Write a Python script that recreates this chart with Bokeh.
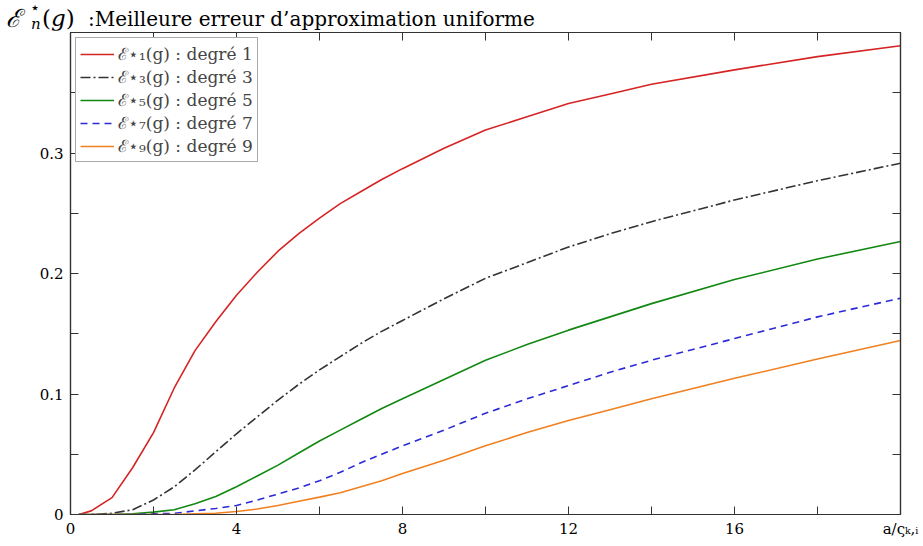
from bokeh.plotting import figure
from bokeh.layouts import column
from bokeh.models import (ColumnDataSource, Range1d, LinearAxis, FixedTicker,
                          NumeralTickFormatter, Legend, LegendItem, Div)
from bokeh.embed import file_html
from bokeh.resources import INLINE

# ---- data ----
x_vals = [0.2, 0.5, 1, 1.5, 2, 2.5, 3, 3.5, 4, 4.5, 5, 5.5, 6, 6.5, 7, 7.5, 8, 9, 10,
          11, 12, 13, 14, 16, 18, 20]
deg1 = [0, 0.003, 0.014, 0.039, 0.068, 0.105, 0.136, 0.160, 0.182, 0.201, 0.2185,
        0.233, 0.246, 0.258, 0.268, 0.278, 0.287, 0.304, 0.319, 0.330, 0.341, 0.349,
        0.357, 0.369, 0.380, 0.389]
deg3 = [0, 0, 0.001, 0.004, 0.012, 0.023, 0.037, 0.052, 0.067, 0.081, 0.095,
        0.108, 0.120, 0.131, 0.142, 0.152, 0.161, 0.179, 0.196, 0.209, 0.222, 0.233,
        0.243, 0.261, 0.277, 0.2915]
deg5 = [0, 0, 0, 0.0005, 0.002, 0.004, 0.009, 0.015, 0.023, 0.032, 0.041,
        0.051, 0.061, 0.070, 0.079, 0.088, 0.096, 0.112, 0.128, 0.141, 0.153, 0.164,
        0.175, 0.195, 0.212, 0.2266]
deg7 = [0, 0, 0, 0, 0.0005, 0.001, 0.003, 0.005, 0.0075, 0.012, 0.017,
        0.022, 0.028, 0.035, 0.043, 0.050, 0.057, 0.070, 0.084, 0.096, 0.107, 0.118,
        0.128, 0.146, 0.164, 0.1795]
deg9 = [0, 0, 0, 0, 0, 0, 0.0005, 0.001, 0.0025, 0.0045, 0.0075,
        0.011, 0.0144, 0.018, 0.023, 0.028, 0.034, 0.045, 0.057, 0.068, 0.078, 0.087,
        0.096, 0.113, 0.129, 0.1444]

series_keys = ["deg1", "deg3", "deg5", "deg7", "deg9"]
series_labels = ["ℰ⋆₁(g) : degré 1", "ℰ⋆₃(g) : degré 3", "ℰ⋆₅(g) : degré 5",
                 "ℰ⋆₇(g) : degré 7", "ℰ⋆₉(g) : degré 9"]
series_colors = ["#d62424", "#333333", "#118811", "#2a2ad8", "#f08020"]
series_dash = ["solid", "10 3 2 3", "solid", "7 5", "solid"]

x_ticks = [0, 4, 8, 12, 16, 20]
x_minor = [2, 6, 10, 14, 18]
x_label_overrides = {20: "a/ςₖ,ᵢ"}
y_ticks = [0, 0.1, 0.2, 0.3]
y_minor = [0.05, 0.15, 0.25, 0.35]

heading_main = ":Meilleure erreur d’approximation uniforme"

source = ColumnDataSource(dict(x=x_vals, deg1=deg1, deg3=deg3, deg5=deg5,
                               deg7=deg7, deg9=deg9))

FONT = "DejaVu Serif"

p = figure(width=923, height=516, output_backend="svg", toolbar_location=None,
           x_range=Range1d(0, 20), y_range=Range1d(0, 0.4),
           min_border_left=70, min_border_right=23, min_border_top=2,
           min_border_bottom=32, x_axis_type=None, y_axis_type=None)
p.xgrid.visible = False
p.ygrid.visible = False
p.outline_line_color = "#222222"
p.outline_line_width = 1.2
p.background_fill_color = "white"
p.border_fill_color = "white"

def style_axis(ax, ticks, minor, labels=True):
    ax.ticker = FixedTicker(ticks=ticks, minor_ticks=minor)
    ax.major_tick_in = 8
    ax.major_tick_out = 0
    ax.minor_tick_in = 8
    ax.minor_tick_out = 0
    ax.major_tick_line_color = "#333333"
    ax.minor_tick_line_color = "#333333"
    ax.axis_line_color = "#333333"
    ax.axis_line_width = 1.2
    if labels:
        ax.major_label_text_font = FONT
        ax.major_label_text_font_size = "15px"
        ax.major_label_text_color = "black"
    else:
        ax.major_label_text_color = None
        ax.major_label_standoff = 0

bx = LinearAxis(major_label_overrides=x_label_overrides)
style_axis(bx, x_ticks, x_minor)
bx.major_label_standoff = 5
p.add_layout(bx, "below")

ly = LinearAxis(formatter=NumeralTickFormatter(format="0.[0]"))
style_axis(ly, y_ticks, y_minor)
ly.major_label_standoff = 7
p.add_layout(ly, "left")

tx = LinearAxis()
style_axis(tx, x_ticks + x_minor, [], labels=False)
p.add_layout(tx, "above")

ry = LinearAxis()
style_axis(ry, y_ticks + y_minor, [], labels=False)
p.add_layout(ry, "right")

items = []
for key, lab, col, dash in zip(series_keys, series_labels, series_colors, series_dash):
    r = p.line("x", key, source=source, line_color=col, line_width=1.6, line_dash=dash)
    items.append(LegendItem(label=lab, renderers=[r]))

legend = Legend(items=items, location="top_left")
legend.label_text_font = FONT
legend.label_text_font_size = "17px"
legend.label_height = 20
legend.glyph_height = 20
legend.glyph_width = 34
legend.spacing = 0
legend.padding = 4
legend.margin = 5
legend.label_standoff = 4
legend.border_line_color = "#555555"
legend.border_line_width = 1
legend.background_fill_alpha = 1
p.add_layout(legend)

FF = "font-family:DejaVu Serif,serif;color:black;"
heading_html = (
    "<div style=\"position:relative;width:923px;height:30px;white-space:nowrap;" + FF + "\">"
    "<span style=\"position:absolute;left:6px;top:4px;font-size:25px;"
    "font-style:italic;line-height:30px;" + FF + "\">ℰ</span>"
    "<span style=\"position:absolute;left:30px;top:1px;font-size:16px;"
    "line-height:14px;" + FF + "\">⋆</span>"
    "<span style=\"position:absolute;left:31px;top:18px;font-size:15px;"
    "font-style:italic;line-height:13px;" + FF + "\">n</span>"
    "<span style=\"position:absolute;left:42px;top:3px;font-size:23px;"
    "line-height:30px;" + FF + "\">(<i>g</i>)</span>"
    "<span style=\"position:absolute;left:88px;top:4px;font-size:20px;"
    "line-height:30px;" + FF + "\">" + heading_main + "</span>"
    "</div>"
)
heading = Div(text=heading_html, width=923, height=30, margin=(0, 0, 0, 0),
              styles={"font-family": "DejaVu Serif"})

layout = column(heading, p, spacing=0)

open("out.html", "w").write(file_html(layout, INLINE))
